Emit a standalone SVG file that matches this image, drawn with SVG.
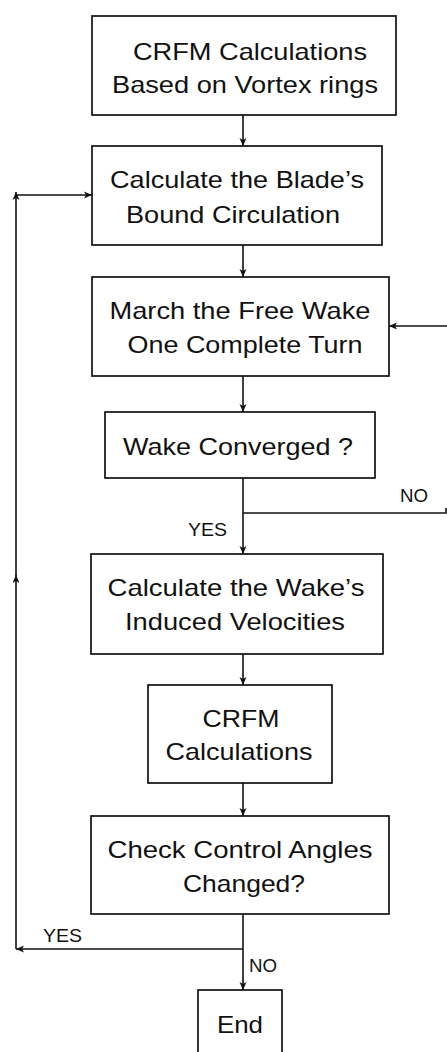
<svg xmlns="http://www.w3.org/2000/svg" width="447" height="1052" viewBox="0 0 447 1052">
  <style>
    .box { fill: #ffffff; stroke: #111111; stroke-width: 1.7; }
    .txt { font-family: "Liberation Sans", Arial, sans-serif; font-size: 24px; fill: #111111; text-anchor: middle; }
    .lbl { font-family: "Liberation Sans", Arial, sans-serif; font-size: 18px; fill: #111111; }
    .wire { fill: none; stroke: #111111; stroke-width: 1.6; }
  </style>
  <defs>
    <marker id="head" markerWidth="9" markerHeight="9" refX="8" refY="4.5" orient="auto" markerUnits="userSpaceOnUse">
      <path d="M0,1 L8,4.5 L0,8 L2,4.5 Z" fill="#111111"/>
    </marker>
  </defs>
  <rect width="447" height="1052" fill="#ffffff"/>

  <g id="connectors">
    <line class="wire" x1="243" y1="115" x2="243" y2="146" marker-end="url(#head)"/>
    <line class="wire" x1="243" y1="245" x2="243" y2="277" marker-end="url(#head)"/>
    <line class="wire" x1="243" y1="376" x2="243" y2="412" marker-end="url(#head)"/>
    <line class="wire" x1="243" y1="478" x2="243" y2="554" marker-end="url(#head)"/>
    <line class="wire" x1="243" y1="654" x2="243" y2="685" marker-end="url(#head)"/>
    <line class="wire" x1="243" y1="783" x2="243" y2="816" marker-end="url(#head)"/>
    <line class="wire" x1="243" y1="914" x2="243" y2="990" marker-end="url(#head)"/>
    <!-- NO branch of the convergence test, leaving to the right and re-entering the march step -->
    <polyline class="wire" points="243,513 446,513 446,508"/>
    <line class="wire" x1="447" y1="326" x2="389" y2="326" marker-end="url(#head)"/>
    <!-- YES branch of the control-angle check, back to the circulation step -->
    <line class="wire" x1="243" y1="949" x2="16" y2="949" marker-end="url(#head)"/>
    <line class="wire" x1="16" y1="949" x2="16" y2="575" marker-end="url(#head)"/>
    <line class="wire" x1="16" y1="576" x2="16" y2="192" marker-end="url(#head)"/>
    <line class="wire" x1="16" y1="195" x2="92" y2="195" marker-end="url(#head)"/>
    <text class="lbl" x="400" y="502" textLength="28" lengthAdjust="spacingAndGlyphs">NO</text>
    <text class="lbl" x="188" y="536" textLength="39" lengthAdjust="spacingAndGlyphs">YES</text>
    <text class="lbl" x="43" y="942" textLength="39" lengthAdjust="spacingAndGlyphs">YES</text>
    <text class="lbl" x="249" y="972" textLength="28" lengthAdjust="spacingAndGlyphs">NO</text>
  </g>

  <g id="crfm-vortex">
    <rect class="box" x="92" y="16" width="304" height="99"/>
    <text class="txt" x="250" y="60" textLength="234" lengthAdjust="spacingAndGlyphs">CRFM Calculations</text>
    <text class="txt" x="245" y="93" textLength="266" lengthAdjust="spacingAndGlyphs">Based on Vortex rings</text>
  </g>

  <g id="bound-circulation">
    <rect class="box" x="92" y="146" width="290" height="99"/>
    <text class="txt" x="237" y="188" textLength="254" lengthAdjust="spacingAndGlyphs">Calculate the Blade’s</text>
    <text class="txt" x="233" y="223" textLength="214" lengthAdjust="spacingAndGlyphs">Bound Circulation</text>
  </g>

  <g id="march-wake">
    <rect class="box" x="92" y="277" width="297" height="99"/>
    <text class="txt" x="240" y="319" textLength="261" lengthAdjust="spacingAndGlyphs">March the Free Wake</text>
    <text class="txt" x="245" y="353" textLength="235" lengthAdjust="spacingAndGlyphs">One Complete Turn</text>
  </g>

  <g id="wake-converged">
    <rect class="box" x="105" y="412" width="270" height="66"/>
    <text class="txt" x="238" y="455" textLength="230" lengthAdjust="spacingAndGlyphs">Wake Converged ?</text>
  </g>

  <g id="induced-velocities">
    <rect class="box" x="91" y="554" width="292" height="100"/>
    <text class="txt" x="236" y="596" textLength="257" lengthAdjust="spacingAndGlyphs">Calculate the Wake’s</text>
    <text class="txt" x="235" y="630" textLength="220" lengthAdjust="spacingAndGlyphs">Induced Velocities</text>
  </g>

  <g id="crfm-calculations">
    <rect class="box" x="148" y="685" width="184" height="98"/>
    <text class="txt" x="241" y="727" textLength="77" lengthAdjust="spacingAndGlyphs">CRFM</text>
    <text class="txt" x="239" y="760" textLength="147" lengthAdjust="spacingAndGlyphs">Calculations</text>
  </g>

  <g id="control-angles">
    <rect class="box" x="91" y="816" width="298" height="98"/>
    <text class="txt" x="240" y="858" textLength="265" lengthAdjust="spacingAndGlyphs">Check Control Angles</text>
    <text class="txt" x="244" y="892" textLength="122" lengthAdjust="spacingAndGlyphs">Changed?</text>
  </g>

  <g id="end">
    <rect class="box" x="198" y="990" width="84" height="70"/>
    <text class="txt" x="240" y="1033" textLength="46" lengthAdjust="spacingAndGlyphs">End</text>
  </g>
</svg>
